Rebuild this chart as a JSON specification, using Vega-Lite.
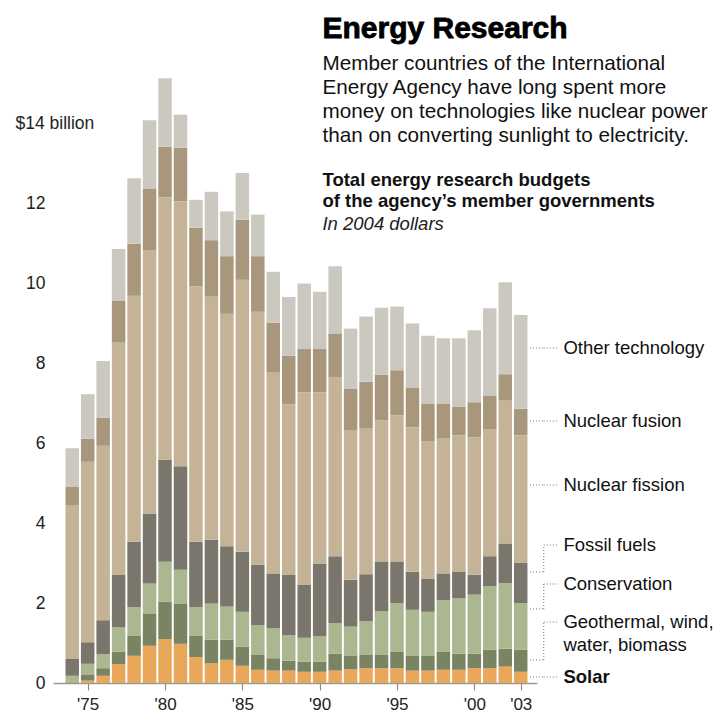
{
  "$schema": "https://vega.github.io/schema/vega-lite/v6.json",
  "width": 484,
  "height": 608,
  "autosize": "none",
  "padding": {"left": 53, "top": 75, "right": 186, "bottom": 30},
  "background": "white",
  "view": {"stroke": null},
  "config": {"font": "Liberation Sans", "text": {"font": "Liberation Sans", "color": "#111"}},
  "datasets": {
    "budgets": [
      {"year": 1974, "a_solar": 0.01, "b_geothermal": 0.02, "c_conservation": 0.15, "d_fossil": 0.42, "e_fission": 3.85, "f_fusion": 0.46, "g_other": 0.96},
      {"year": 1975, "a_solar": 0.06, "b_geothermal": 0.14, "c_conservation": 0.28, "d_fossil": 0.54, "e_fission": 4.51, "f_fusion": 0.58, "g_other": 1.11},
      {"year": 1976, "a_solar": 0.18, "b_geothermal": 0.19, "c_conservation": 0.35, "d_fossil": 0.85, "e_fission": 4.36, "f_fusion": 0.70, "g_other": 1.42},
      {"year": 1977, "a_solar": 0.47, "b_geothermal": 0.31, "c_conservation": 0.61, "d_fossil": 1.31, "e_fission": 5.81, "f_fusion": 1.04, "g_other": 1.30},
      {"year": 1978, "a_solar": 0.68, "b_geothermal": 0.51, "c_conservation": 0.71, "d_fossil": 1.63, "e_fission": 6.15, "f_fusion": 1.30, "g_other": 1.64},
      {"year": 1979, "a_solar": 0.93, "b_geothermal": 0.81, "c_conservation": 0.75, "d_fossil": 1.75, "e_fission": 6.57, "f_fusion": 1.54, "g_other": 1.72},
      {"year": 1980, "a_solar": 1.10, "b_geothermal": 0.93, "c_conservation": 1.00, "d_fossil": 2.55, "e_fission": 6.56, "f_fusion": 1.27, "g_other": 1.71},
      {"year": 1981, "a_solar": 0.98, "b_geothermal": 1.01, "c_conservation": 0.84, "d_fossil": 2.59, "e_fission": 6.62, "f_fusion": 1.34, "g_other": 0.83},
      {"year": 1982, "a_solar": 0.65, "b_geothermal": 0.54, "c_conservation": 0.71, "d_fossil": 1.63, "e_fission": 6.39, "f_fusion": 1.46, "g_other": 0.70},
      {"year": 1983, "a_solar": 0.49, "b_geothermal": 0.59, "c_conservation": 0.91, "d_fossil": 1.59, "e_fission": 6.08, "f_fusion": 1.41, "g_other": 1.21},
      {"year": 1984, "a_solar": 0.58, "b_geothermal": 0.50, "c_conservation": 0.83, "d_fossil": 1.51, "e_fission": 5.81, "f_fusion": 1.44, "g_other": 1.12},
      {"year": 1985, "a_solar": 0.43, "b_geothermal": 0.48, "c_conservation": 0.87, "d_fossil": 1.50, "e_fission": 6.80, "f_fusion": 1.50, "g_other": 1.17},
      {"year": 1986, "a_solar": 0.33, "b_geothermal": 0.37, "c_conservation": 0.74, "d_fossil": 1.52, "e_fission": 6.32, "f_fusion": 1.39, "g_other": 1.04},
      {"year": 1987, "a_solar": 0.31, "b_geothermal": 0.31, "c_conservation": 0.75, "d_fossil": 1.37, "e_fission": 5.02, "f_fusion": 1.25, "g_other": 1.27},
      {"year": 1988, "a_solar": 0.31, "b_geothermal": 0.25, "c_conservation": 0.63, "d_fossil": 1.51, "e_fission": 4.27, "f_fusion": 1.21, "g_other": 1.47},
      {"year": 1989, "a_solar": 0.28, "b_geothermal": 0.25, "c_conservation": 0.60, "d_fossil": 1.32, "e_fission": 4.82, "f_fusion": 1.08, "g_other": 1.64},
      {"year": 1990, "a_solar": 0.28, "b_geothermal": 0.25, "c_conservation": 0.63, "d_fossil": 1.83, "e_fission": 4.28, "f_fusion": 1.08, "g_other": 1.43},
      {"year": 1991, "a_solar": 0.31, "b_geothermal": 0.42, "c_conservation": 0.77, "d_fossil": 1.67, "e_fission": 4.48, "f_fusion": 1.09, "g_other": 1.68},
      {"year": 1992, "a_solar": 0.34, "b_geothermal": 0.35, "c_conservation": 0.72, "d_fossil": 1.17, "e_fission": 3.73, "f_fusion": 1.04, "g_other": 1.51},
      {"year": 1993, "a_solar": 0.37, "b_geothermal": 0.33, "c_conservation": 0.84, "d_fossil": 1.18, "e_fission": 3.64, "f_fusion": 1.17, "g_other": 1.63},
      {"year": 1994, "a_solar": 0.37, "b_geothermal": 0.33, "c_conservation": 1.09, "d_fossil": 1.25, "e_fission": 3.53, "f_fusion": 1.13, "g_other": 1.68},
      {"year": 1995, "a_solar": 0.37, "b_geothermal": 0.42, "c_conservation": 1.21, "d_fossil": 1.04, "e_fission": 3.65, "f_fusion": 1.13, "g_other": 1.59},
      {"year": 1996, "a_solar": 0.31, "b_geothermal": 0.38, "c_conservation": 1.14, "d_fossil": 0.95, "e_fission": 3.61, "f_fusion": 1.00, "g_other": 1.60},
      {"year": 1997, "a_solar": 0.31, "b_geothermal": 0.38, "c_conservation": 1.09, "d_fossil": 0.82, "e_fission": 3.45, "f_fusion": 0.94, "g_other": 1.69},
      {"year": 1998, "a_solar": 0.33, "b_geothermal": 0.46, "c_conservation": 1.28, "d_fossil": 0.67, "e_fission": 3.37, "f_fusion": 0.88, "g_other": 1.63},
      {"year": 1999, "a_solar": 0.33, "b_geothermal": 0.40, "c_conservation": 1.39, "d_fossil": 0.67, "e_fission": 3.40, "f_fusion": 0.71, "g_other": 1.72},
      {"year": 2000, "a_solar": 0.37, "b_geothermal": 0.36, "c_conservation": 1.48, "d_fossil": 0.50, "e_fission": 3.43, "f_fusion": 0.88, "g_other": 1.80},
      {"year": 2001, "a_solar": 0.37, "b_geothermal": 0.46, "c_conservation": 1.59, "d_fossil": 0.75, "e_fission": 3.18, "f_fusion": 0.84, "g_other": 2.18},
      {"year": 2002, "a_solar": 0.41, "b_geothermal": 0.45, "c_conservation": 1.63, "d_fossil": 1.00, "e_fission": 3.57, "f_fusion": 0.66, "g_other": 2.30},
      {"year": 2003, "a_solar": 0.28, "b_geothermal": 0.55, "c_conservation": 1.17, "d_fossil": 1.00, "e_fission": 3.19, "f_fusion": 0.67, "g_other": 2.34}
    ],
    "labels": [
      {"name": "Other technology", "ly": 8.375, "py": 8.375},
      {"name": "Nuclear fusion", "ly": 6.55, "py": 6.55},
      {"name": "Nuclear fission", "ly": 4.95, "py": 4.95},
      {"name": "Fossil fuels", "ly": 3.45, "py": 2.775},
      {"name": "Conservation", "ly": 2.475, "py": 1.85},
      {"name": "Geothermal, wind,\nwater, biomass", "ly": 1.525, "py": 0.575},
      {"name": "Solar", "ly": 0.15, "py": 0.15}
    ]
  },
  "layer": [
    {
      "data": {"name": "budgets"},
      "transform": [
        {"fold": ["a_solar", "b_geothermal", "c_conservation", "d_fossil", "e_fission", "f_fusion", "g_other"], "as": ["cat", "v"]}
      ],
      "mark": {"type": "bar", "width": 13.5},
      "encoding": {
        "x": {
          "field": "year", "type": "quantitative",
          "scale": {"domain": [1973.08, 2003.73], "nice": false, "zero": false},
          "axis": {
            "title": null, "grid": false,
            "values": [1975, 1980, 1985, 1990, 1995, 2000, 2003],
            "labelExpr": "\"'\" + substring(toString(datum.value), 2, 4)",
            "labelFont": "Liberation Sans", "labelFontSize": 17, "labelColor": "#222",
            "labelPadding": 6, "labelFlush": false,
            "ticks": true, "tickSize": 7, "tickColor": "#8c8c8c", "tickWidth": 1.2,
            "domainColor": "#9a9a9a", "domainWidth": 1.5
          }
        },
        "y": {
          "field": "v", "type": "quantitative", "stack": "zero",
          "scale": {"domain": [0, 15.2], "nice": false},
          "axis": {
            "title": null, "grid": false, "domain": false, "ticks": false, "tickSize": 0,
            "values": [0, 2, 4, 6, 8, 10, 12, 14],
            "labelExpr": "datum.value == 14 ? '$14 billion' : datum.label",
            "labelAlign": {"condition": {"test": "datum.value == 14", "value": "left"}, "value": "right"},
            "labelPadding": {"condition": {"test": "datum.value == 14", "value": 38}, "value": 8},
            "labelFont": "Liberation Sans", "labelFontSize": 17.5, "labelColor": "#222"
          }
        },
        "color": {
          "field": "cat", "type": "nominal", "legend": null,
          "scale": {
            "domain": ["a_solar", "b_geothermal", "c_conservation", "d_fossil", "e_fission", "f_fusion", "g_other"],
            "range": ["#E9A75A", "#7B8462", "#AAB78F", "#7A766B", "#C5B398", "#A8977C", "#CBC8BF"]
          }
        },
        "order": {"field": "cat", "type": "nominal", "sort": "ascending"}
      }
    },
    {
      "data": {"name": "labels"},
      "mark": {"type": "rule", "color": "#777", "strokeDash": [1, 2], "strokeWidth": 1},
      "encoding": {
        "x": {"datum": 2003.6, "type": "quantitative"},
        "x2": {"datum": 2004.49},
        "y": {"field": "py", "type": "quantitative"}
      }
    },
    {
      "data": {"name": "labels"},
      "mark": {"type": "rule", "color": "#777", "strokeDash": [1, 2], "strokeWidth": 1},
      "encoding": {
        "x": {"datum": 2004.49, "type": "quantitative"},
        "y": {"field": "py", "type": "quantitative"},
        "y2": {"field": "ly"}
      }
    },
    {
      "data": {"name": "labels"},
      "mark": {"type": "rule", "color": "#777", "strokeDash": [1, 2], "strokeWidth": 1},
      "encoding": {
        "x": {"datum": 2004.49, "type": "quantitative"},
        "x2": {"datum": 2005.38},
        "y": {"field": "ly", "type": "quantitative"}
      }
    },
    {
      "data": {"name": "labels"},
      "mark": {
        "type": "text", "align": "left", "baseline": "middle", "fontSize": 18.5, "lineBreak": "\n", "lineHeight": 23,
        "font": "Liberation Sans", "color": "#111",
        "fontWeight": {"expr": "datum.name == 'Solar' ? 'bold' : 'normal'"}
      },
      "encoding": {
        "x": {"datum": 2005.76, "type": "quantitative"},
        "y": {"field": "ly", "type": "quantitative"},
        "text": {"field": "name"}
      }
    },
    {
      "data": {"values": [{}]},
      "mark": {"type": "text", "text": "Energy Research", "align": "left", "baseline": "alphabetic", "fontSize": 30, "fontWeight": "bold", "font": "Liberation Sans", "color": "#000", "stroke": "#000", "strokeWidth": 0.8},
      "encoding": {
        "x": {"datum": 1990.18, "type": "quantitative"},
        "y": {"datum": 16.125, "type": "quantitative"}
      }
    },
    {
      "data": {"values": [{}]},
      "mark": {
        "type": "text",
        "text": ["Member countries of the International", "Energy Agency have long spent more", "money on technologies like nuclear power", "than on converting sunlight to electricity."],
        "align": "left", "baseline": "alphabetic", "fontSize": 20.7, "lineHeight": 24, "font": "Liberation Sans", "color": "#111"
      },
      "encoding": {
        "x": {"datum": 1990.18, "type": "quantitative"},
        "y": {"datum": 15.325, "type": "quantitative"}
      }
    },
    {
      "data": {"values": [{}]},
      "mark": {
        "type": "text",
        "text": ["Total energy research budgets", "of the agency’s member governments"],
        "align": "left", "baseline": "alphabetic", "fontSize": 18.5, "lineHeight": 21.5, "fontWeight": "bold", "font": "Liberation Sans", "color": "#111"
      },
      "encoding": {
        "x": {"datum": 1990.18, "type": "quantitative"},
        "y": {"datum": 12.4375, "type": "quantitative"}
      }
    },
    {
      "data": {"values": [{}]},
      "mark": {
        "type": "text", "text": "In 2004 dollars",
        "align": "left", "baseline": "alphabetic", "fontSize": 18.5, "fontStyle": "italic", "font": "Liberation Sans", "color": "#222"
      },
      "encoding": {
        "x": {"datum": 1990.18, "type": "quantitative"},
        "y": {"datum": 11.325, "type": "quantitative"}
      }
    }
  ]
}
